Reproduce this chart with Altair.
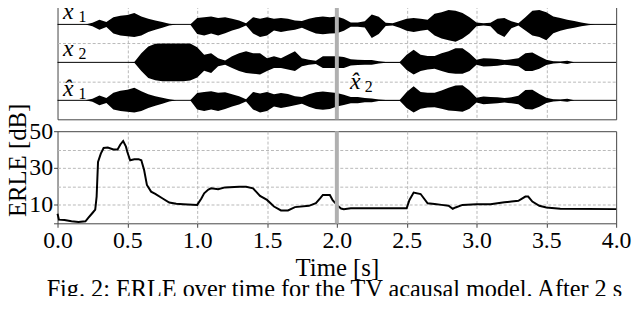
import altair as alt
import pandas as pd

# ---------------- data ----------------
# waveform envelope sample times (s)
t_wave = [round(0.05 * i, 2) for i in range(81)]

# x1: upper / lower envelope (units of track spacing)
x1_up = [0, 0, 0, 0, 0, 0.04, 0.12, 0.06, 0.19, 0.23, 0.25, 0.30, 0.21, 0.15, 0.10, 0.06, 0.02, 0, 0, 0,
         0.17, 0.19, 0.21, 0.17, 0.19, 0.15, 0.10, 0.03, 0.19, 0.15, 0.19, 0.15, 0.17, 0.15, 0.10, 0.09,
         0.15, 0.19, 0.21, 0.19, 0.21, 0.15, 0.05, 0.05, 0.08, 0.26, 0.20, 0.04, 0.03, 0.09, 0.15, 0.17,
         0.15, 0.12, 0.28, 0.32, 0.38, 0.36, 0.30, 0.19, 0.05, 0.03, 0.04, 0.15, 0.17, 0.08, 0.03, 0.19,
         0.36, 0.38, 0.32, 0.21, 0.17, 0.12, 0.09, 0.05, 0.02, 0, 0, 0, 0]
x1_lo = [0, 0, 0, 0, 0, 0.05, 0.14, 0.07, 0.24, 0.29, 0.31, 0.33, 0.29, 0.20, 0.14, 0.09, 0.03, 0, 0, 0,
         0.25, 0.29, 0.24, 0.29, 0.23, 0.16, 0.11, 0.03, 0.24, 0.33, 0.29, 0.16, 0.20, 0.17, 0.14, 0.09,
         0.17, 0.24, 0.26, 0.24, 0.23, 0.17, 0.06, 0.06, 0.08, 0.36, 0.25, 0.04, 0.03, 0.09, 0.17, 0.20,
         0.17, 0.14, 0.29, 0.37, 0.42, 0.46, 0.37, 0.24, 0.05, 0.03, 0.05, 0.24, 0.33, 0.10, 0.03, 0.16,
         0.29, 0.33, 0.42, 0.23, 0.17, 0.12, 0.09, 0.05, 0.02, 0, 0, 0, 0]

# x2
x2_up = [0, 0, 0, 0, 0, 0, 0, 0, 0, 0, 0, 0.01, 0.24, 0.42, 0.49, 0.50, 0.50, 0.50, 0.50, 0.50,
         0.40, 0.20, 0.24, 0.11, 0.05, 0.16, 0.24, 0.29, 0.24, 0.24, 0.11, 0.16, 0.11, 0.20, 0.29, 0.11,
         0.07, 0.04, 0.16, 0.16, 0.16, 0.14, 0.08, 0.07, 0.06, 0.06, 0.03, 0.01, 0.01, 0.01, 0.20, 0.33,
         0.20, 0.17, 0.17, 0.24, 0.29, 0.37, 0.37, 0.24, 0.07, 0.11, 0.10, 0.09, 0.06, 0.08, 0.11, 0.24,
         0.26, 0.16, 0.07, 0.03, 0.02, 0.04, 0, 0, 0, 0, 0, 0, 0]
x2_lo = [0, 0, 0, 0, 0, 0, 0, 0, 0, 0, 0, 0.01, 0.23, 0.41, 0.47, 0.50, 0.50, 0.50, 0.50, 0.48,
         0.40, 0.22, 0.28, 0.10, 0.06, 0.15, 0.23, 0.28, 0.30, 0.32, 0.23, 0.15, 0.15, 0.19, 0.23, 0.10,
         0.06, 0.04, 0.15, 0.15, 0.15, 0.15, 0.08, 0.07, 0.06, 0.06, 0.03, 0.01, 0.01, 0.01, 0.20, 0.32,
         0.23, 0.19, 0.17, 0.23, 0.28, 0.30, 0.30, 0.23, 0.06, 0.11, 0.10, 0.09, 0.06, 0.08, 0.10, 0.23,
         0.23, 0.17, 0.07, 0.03, 0.02, 0.04, 0, 0, 0, 0, 0, 0, 0]

# estimated signal (x^1 before 2 s, x^2 after)
xh_up = [0, 0, 0, 0, 0, 0.04, 0.13, 0.06, 0.20, 0.25, 0.28, 0.33, 0.24, 0.16, 0.11, 0.07, 0.03, 0, 0, 0,
         0.19, 0.22, 0.24, 0.20, 0.21, 0.16, 0.11, 0.03, 0.22, 0.18, 0.22, 0.16, 0.19, 0.17, 0.11, 0.09,
         0.16, 0.21, 0.23, 0.21, 0.19, 0.15, 0.09, 0.09, 0.06, 0.05, 0.02, 0.01, 0.01, 0.01, 0.22, 0.37,
         0.22, 0.20, 0.20, 0.26, 0.33, 0.39, 0.40, 0.26, 0.07, 0.10, 0.09, 0.08, 0.06, 0.08, 0.12, 0.27,
         0.28, 0.17, 0.07, 0.03, 0.02, 0.04, 0, 0, 0, 0, 0, 0, 0]
xh_lo = [0, 0, 0, 0, 0, 0.04, 0.13, 0.07, 0.24, 0.28, 0.30, 0.32, 0.28, 0.20, 0.14, 0.09, 0.03, 0, 0, 0,
         0.24, 0.28, 0.24, 0.28, 0.23, 0.16, 0.11, 0.03, 0.24, 0.32, 0.28, 0.16, 0.20, 0.17, 0.13, 0.09,
         0.17, 0.23, 0.25, 0.23, 0.16, 0.12, 0.08, 0.08, 0.05, 0.05, 0.02, 0.01, 0.01, 0.01, 0.20, 0.32,
         0.22, 0.19, 0.18, 0.22, 0.27, 0.28, 0.30, 0.22, 0.06, 0.10, 0.09, 0.08, 0.06, 0.08, 0.10, 0.23,
         0.24, 0.17, 0.07, 0.03, 0.02, 0.04, 0, 0, 0, 0, 0, 0, 0]

track_names = ["x1", "x2", "xhat"]
track_base = [2, 1, 0]

# ERLE curve
erle_t = [0.0, 0.01, 0.05, 0.10, 0.15, 0.20, 0.22, 0.25, 0.27, 0.28, 0.29, 0.31, 0.33, 0.36, 0.40, 0.43,
          0.45, 0.47, 0.49, 0.50, 0.52, 0.55, 0.58, 0.60, 0.62, 0.64, 0.67, 0.70, 0.75, 0.80, 0.85, 0.90,
          1.00, 1.03, 1.05, 1.08, 1.10, 1.15, 1.20, 1.30, 1.35, 1.40, 1.45, 1.50, 1.55, 1.60, 1.65, 1.70,
          1.80, 1.85, 1.88, 1.90, 1.95, 1.97, 2.00, 2.03, 2.05, 2.10, 2.50, 2.52, 2.55, 2.60, 2.65, 2.70,
          2.75, 2.80, 2.83, 2.85, 2.90, 3.00, 3.10, 3.15, 3.20, 3.25, 3.30, 3.35, 3.37, 3.40, 3.45, 3.50,
          3.60, 4.00]
erle_db = [5.2, 2.0, 1.8, 1.1, 0.7, 1.1, 2.9, 5.6, 7.4, 14.5, 33.3, 37.8, 40.9, 41.1, 40.1, 40.1,
           42.8, 44.6, 41.6, 38.7, 34.2, 34.8, 34.8, 34.2, 28.9, 20.8, 17.2, 16.0, 13.6, 11.3, 10.6, 10.4,
           10.0, 13.5, 16.3, 18.3, 19.0, 18.5, 19.5, 19.9, 19.8, 19.0, 14.9, 12.7, 9.1, 7.0, 7.0, 8.8,
           9.5, 10.9, 13.5, 15.4, 15.4, 12.5, 10.0, 8.0, 7.7, 8.2, 8.2, 12.7, 16.7, 15.9, 10.9, 10.5,
           10.0, 9.5, 7.9, 8.6, 10.0, 10.3, 10.3, 10.9, 11.4, 11.8, 12.2, 14.5, 14.5, 11.8, 9.5, 8.6,
           7.9, 7.7]

switch_t = [2.0]

x_ticks = [0.0, 0.5, 1.0, 1.5, 2.0, 2.5, 3.0, 3.5, 4.0]
y_ticks = [0, 10, 20, 30, 40, 50]

# track labels
lab_main = ["x", "x", "x\u0302", "x\u0302"]
lab_sub = ["1", "2", "1", "2"]
lab_t = [0.04, 0.04, 0.04, 2.095]
lab_v = [2.135, 1.17, 0.126, 0.31]
sub_t = [0.15, 0.15, 0.15, 2.2]
sub_v = [2.05, 1.09, 0.03, 0.21]

caption = ["Fig. 2: ERLE over time for the TV acausal model. After 2 s"]

# ---------------- build tables ----------------
rows = []
for name, base, up, lo in zip(track_names, track_base, [x1_up, x2_up, xh_up], [x1_lo, x2_lo, xh_lo]):
    for t, u, l in zip(t_wave, up, lo):
        rows.append({"track": name, "t": t, "top": base + u, "bottom": base - l})
wave_df = pd.DataFrame(rows)
base_df = pd.DataFrame({"base": track_base})
switch_df = pd.DataFrame({"t": switch_t})
erle_df = pd.DataFrame({"t": erle_t, "erle": erle_db})
lab_df = pd.DataFrame({"main": lab_main, "sub": lab_sub, "t": lab_t, "v": lab_v, "st": sub_t, "sv": sub_v})
cap_df = pd.DataFrame({"caption": caption})

FONT = "Liberation Serif"
GRID = "#b8b8b8"
DASH = [3, 2]
W = 564

xscale = alt.Scale(domain=[0, 4], nice=False, zero=False)
top_y = alt.Scale(domain=[-0.5, 2.5], nice=False, zero=False)

top_x_axis = alt.Axis(values=[0.5, 1.0, 1.5, 2.0, 2.5, 3.0, 3.5], labels=False, ticks=False, domain=False,
                      title=None, grid=True, gridDash=DASH, gridColor=GRID)
top_y_axis = alt.Axis(values=[0.5, 1.5], labels=False, ticks=False, domain=False, title=None,
                      grid=True, gridDash=DASH, gridColor=GRID)

waves = alt.Chart(wave_df).mark_area(color="black", interpolate="linear", clip=True).encode(
    x=alt.X("t:Q", scale=xscale, axis=top_x_axis),
    y=alt.Y("top:Q", scale=top_y, axis=top_y_axis),
    y2="bottom:Q",
    detail="track:N",
)
bases = alt.Chart(base_df).mark_rule(color="black", strokeWidth=1).encode(
    y=alt.Y("base:Q", scale=top_y)
)
bar_top = alt.Chart(switch_df).mark_rule(color="#b0b0b0", strokeWidth=4).encode(
    x=alt.X("t:Q", scale=xscale)
)
lab_x = alt.Chart(lab_df).mark_text(font=FONT, fontStyle="italic", fontSize=24, align="left",
                                    baseline="alphabetic", color="black").encode(
    x=alt.X("t:Q", scale=xscale), y=alt.Y("v:Q", scale=top_y), text="main:N")
lab_s = alt.Chart(lab_df).mark_text(font=FONT, fontSize=16, align="left",
                                    baseline="alphabetic", color="black").encode(
    x=alt.X("st:Q", scale=xscale), y=alt.Y("sv:Q", scale=top_y), text="sub:N")

top = alt.layer(waves, bases, bar_top, lab_x, lab_s).properties(width=W, height=115)

hide_edges_x = {"condition": {"test": "datum.value == 0 || datum.value == 4", "value": 0}, "value": 1}
hide_edges_y = {"condition": {"test": "datum.value == 0 || datum.value == 50", "value": 0}, "value": 1}
hide_minor_y = {"condition": {"test": "datum.value == 20 || datum.value == 40", "value": 0}, "value": 1}

bot_x_axis = alt.Axis(values=x_ticks, format=".1f", tickSize=4, labelPadding=1, title="Time [s]",
                      titlePadding=4, grid=True, gridDash=DASH, gridColor=GRID, gridOpacity=hide_edges_x,
                      domain=False, labelFlush=False)
bot_y_axis = alt.Axis(values=y_ticks, tickSize=4, labelPadding=1, title="ERLE [dB]",
                      labelExpr="(datum.value == 10 || datum.value == 30 || datum.value == 50) ? datum.label : ''",
                      tickOpacity=hide_minor_y, grid=True, gridDash=DASH, gridColor=GRID,
                      gridOpacity=hide_edges_y, domain=False, titleAngle=270, titleX=-32, titleY=29,
                      titleAlign="center", titleBaseline="alphabetic")

erle_line = alt.Chart(erle_df).mark_line(color="black", strokeWidth=2).encode(
    x=alt.X("t:Q", scale=xscale, axis=bot_x_axis),
    y=alt.Y("erle:Q", scale=alt.Scale(domain=[0, 50], nice=False), axis=bot_y_axis),
)
bar_bot = alt.Chart(switch_df).mark_rule(color="#b0b0b0", strokeWidth=4).encode(
    x=alt.X("t:Q", scale=xscale)
)
cap = alt.Chart(cap_df).mark_text(font=FONT, fontSize=24.5, align="left", baseline="alphabetic",
                                  color="black").encode(
    x=alt.value(-11), y=alt.value(167), text="caption:N")
bottom = alt.layer(erle_line, bar_bot, cap).properties(width=W, height=93)

chart = alt.vconcat(top, bottom, spacing=12, bounds="flush").properties(
    background="white",
    padding={"left": -3, "top": -10, "right": 0, "bottom": -7},
).configure_view(stroke="#444", strokeWidth=1).configure_axis(
    labelFont=FONT, titleFont=FONT, labelFontSize=24, titleFontSize=25, labelColor="black",
    titleColor="black", titleFontWeight="normal", tickColor="#444"
)

chart.save("out.html", embed_options={"renderer": "svg", "actions": False})
